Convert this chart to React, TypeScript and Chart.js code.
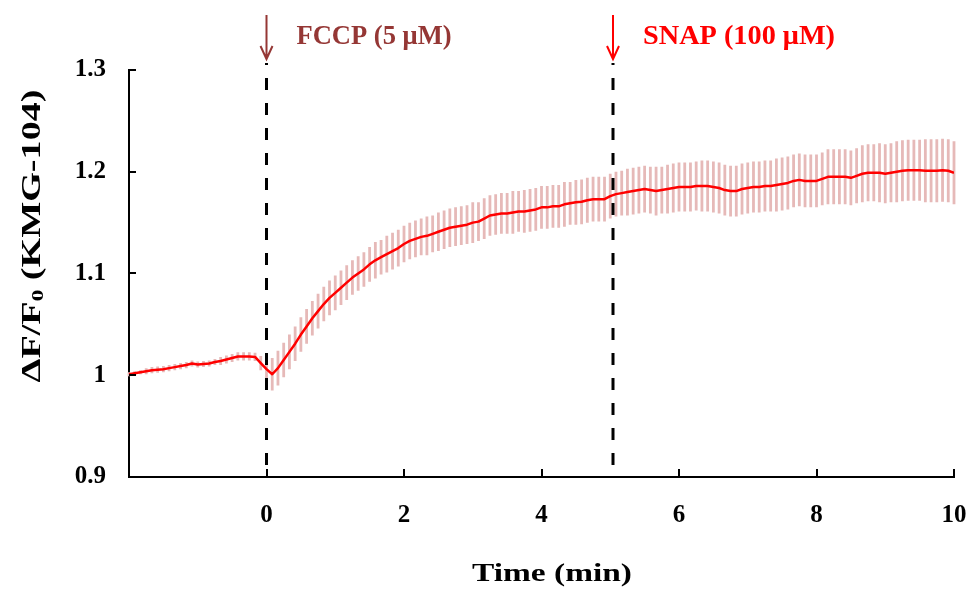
import React, { useEffect, useRef } from "react";
import { Chart, registerables } from "chart.js";

Chart.register(...registerables);

// ---- data ----
const T_START = -2; // minutes
const T_STEP = 1 / 12; // 5-second sampling
const X_MIN = -2;
const X_MAX = 10;
const X_TICKS = [0, 2, 4, 6, 8, 10];
const Y_MIN = 0.9;
const Y_MAX = 1.3;
const Y_STEP = 0.1;

const MEAN = [
  // -2 .. -0.083 min
  1.001, 1.002, 1.003, 1.004, 1.005, 1.0055, 1.006, 1.007, 1.008, 1.009, 1.01, 1.0115,
  1.0105, 1.011, 1.0115, 1.013, 1.014, 1.0155, 1.017, 1.0185, 1.0185, 1.0185, 1.018, 1.012,
  // 0 .. 0.917
  1.006, 1.001, 1.007, 1.015, 1.023, 1.031, 1.04, 1.048, 1.056, 1.063, 1.07, 1.076,
  // 1
  1.081, 1.086, 1.091, 1.096, 1.1, 1.104, 1.109, 1.113, 1.116, 1.119, 1.122, 1.125,
  // 2
  1.129, 1.132, 1.134, 1.136, 1.137, 1.139, 1.141, 1.143, 1.145, 1.146, 1.147, 1.148,
  // 3
  1.15, 1.151, 1.154, 1.157, 1.158, 1.159, 1.159, 1.16, 1.161, 1.161, 1.162, 1.163,
  // 4
  1.165, 1.165, 1.166, 1.166, 1.168, 1.169, 1.17, 1.1705, 1.172, 1.173, 1.173, 1.173,
  // 5
  1.176, 1.178, 1.179, 1.18, 1.181, 1.182, 1.183, 1.182, 1.181, 1.182, 1.183, 1.184,
  // 6
  1.185, 1.185, 1.185, 1.186, 1.186, 1.186, 1.185, 1.184, 1.182, 1.181, 1.181, 1.183,
  // 7
  1.184, 1.185, 1.185, 1.186, 1.186, 1.187, 1.188, 1.189, 1.191, 1.192, 1.191, 1.191,
  // 8
  1.191, 1.193, 1.195, 1.195, 1.195, 1.195, 1.194, 1.196, 1.198, 1.199, 1.199, 1.199,
  // 9
  1.198, 1.199, 1.2, 1.201, 1.2015, 1.2015, 1.2015, 1.201, 1.201, 1.201, 1.2015, 1.201,
  // 10
  1.199,
];

const SEM = [
  0.002, 0.002, 0.002, 0.003, 0.003, 0.003, 0.003, 0.003, 0.003, 0.003, 0.003, 0.003,
  0.003, 0.003, 0.003, 0.003, 0.004, 0.004, 0.004, 0.004, 0.004, 0.004, 0.004, 0.007,
  0.011, 0.016, 0.017, 0.017, 0.017, 0.017, 0.017, 0.017, 0.017, 0.017, 0.017, 0.017,
  0.017, 0.017, 0.017, 0.017, 0.017, 0.017, 0.017, 0.018, 0.017, 0.018, 0.018, 0.018,
  0.018, 0.018, 0.018, 0.018, 0.019, 0.018, 0.019, 0.019, 0.019, 0.019, 0.019, 0.019,
  0.02, 0.019, 0.02, 0.02, 0.02, 0.02, 0.02, 0.021, 0.02, 0.021, 0.021, 0.021,
  0.021, 0.021, 0.021, 0.021, 0.022, 0.021, 0.022, 0.022, 0.022, 0.022, 0.022, 0.022,
  0.022, 0.022, 0.022, 0.023, 0.023, 0.023, 0.023, 0.023, 0.024, 0.023, 0.024, 0.024,
  0.024, 0.024, 0.024, 0.024, 0.025, 0.025, 0.025, 0.025, 0.025, 0.025, 0.025, 0.025,
  0.025, 0.025, 0.025, 0.025, 0.025, 0.026, 0.026, 0.026, 0.026, 0.026, 0.026, 0.026,
  0.026, 0.026, 0.027, 0.027, 0.027, 0.027, 0.027, 0.027, 0.028, 0.028, 0.028, 0.029,
  0.029, 0.029, 0.03, 0.03, 0.03, 0.03, 0.03, 0.031, 0.031, 0.031, 0.031, 0.031,
  0.031,
];

const TIMES = MEAN.map((_, i) => T_START + i * T_STEP);

const ADD_TIMES = [0, 5.04];
const ADD_LABELS = ["FCCP (5 μM)", "SNAP (100 μM)"];
const ADD_COLORS = ["#953735", "#FF0000"];

const X_TITLE = "Time (min)";
const Y_TITLE_MAIN = "ΔF/F";
const Y_TITLE_SUB = "0";
const Y_TITLE_REST = " (KMG-104)";

// ---- styles ----
const SERIF = '"Liberation Serif", "Times New Roman", serif';
const LINE_COLOR = "#FF0000";
const ERR_COLOR = "#E6B9B8";

function drawStretched(
  ctx: CanvasRenderingContext2D,
  text: string,
  x: number,
  y: number,
  font: string,
  color: string,
  targetWidth: number,
  align: "left" | "center"
) {
  ctx.save();
  ctx.font = font;
  ctx.fillStyle = color;
  ctx.textBaseline = "alphabetic";
  ctx.textAlign = "left";
  const w = ctx.measureText(text).width;
  const sx = targetWidth / w;
  ctx.translate(align === "center" ? x - targetWidth / 2 : x, y);
  ctx.scale(sx, 1);
  ctx.fillText(text, 0, 0);
  ctx.restore();
}

const decorPlugin = {
  id: "decor",
  beforeDatasetsDraw(chart: any) {
    const { ctx } = chart;
    const xs = chart.scales.x;
    const ys = chart.scales.y;
    ctx.save();
    ctx.strokeStyle = ERR_COLOR;
    ctx.lineWidth = 2.8;
    ctx.lineCap = "butt";
    ctx.beginPath();
    for (let i = 0; i < MEAN.length; i++) {
      const px = xs.getPixelForValue(TIMES[i]);
      ctx.moveTo(px, ys.getPixelForValue(MEAN[i] + SEM[i]));
      ctx.lineTo(px, ys.getPixelForValue(MEAN[i] - SEM[i]));
    }
    ctx.stroke();
    ctx.restore();
  },
  afterDraw(chart: any) {
    const { ctx, chartArea } = chart;
    const xs = chart.scales.x;
    const ys = chart.scales.y;
    ctx.save();

    // inward tick marks
    ctx.strokeStyle = "#000";
    ctx.lineWidth = 2;
    ctx.beginPath();
    for (let v = Y_MIN; v <= Y_MAX + 1e-9; v += Y_STEP) {
      const py = Math.round(ys.getPixelForValue(v));
      ctx.moveTo(chartArea.left, py);
      ctx.lineTo(chartArea.left + 7, py);
    }
    for (const v of X_TICKS) {
      const px = Math.round(xs.getPixelForValue(v));
      ctx.moveTo(px, chartArea.bottom);
      ctx.lineTo(px, chartArea.bottom - 8);
    }
    ctx.stroke();

    // dashed addition lines
    ctx.lineWidth = 3;
    ctx.setLineDash([12, 13]);
    ctx.lineDashOffset = 10;
    for (const t of ADD_TIMES) {
      const px = xs.getPixelForValue(t);
      ctx.beginPath();
      ctx.moveTo(px, 63);
      ctx.lineTo(px, chartArea.bottom);
      ctx.stroke();
    }
    ctx.setLineDash([]);

    // arrows + labels
    const labelWidths = [155, 192];
    for (let i = 0; i < ADD_TIMES.length; i++) {
      const px = xs.getPixelForValue(ADD_TIMES[i]);
      ctx.strokeStyle = ADD_COLORS[i];
      ctx.lineWidth = 2;
      ctx.beginPath();
      ctx.moveTo(px, 15);
      ctx.lineTo(px, 59);
      ctx.moveTo(px - 6, 46);
      ctx.lineTo(px, 59);
      ctx.lineTo(px + 6, 46);
      ctx.stroke();
      drawStretched(ctx, ADD_LABELS[i], px + 30, 44, `bold 27px ${SERIF}`, ADD_COLORS[i], labelWidths[i], "left");
    }

    // x title
    drawStretched(ctx, X_TITLE, 552, 581, `bold 26px ${SERIF}`, "#000", 160, "center");

    // y title with subscript (rotated)
    ctx.save();
    ctx.translate(30, 236);
    ctx.rotate(-Math.PI / 2);
    ctx.fillStyle = "#000";
    ctx.textBaseline = "alphabetic";
    ctx.textAlign = "left";
    const mainFont = `bold 28px ${SERIF}`;
    const subFont = `bold 17px ${SERIF}`;
    ctx.font = mainFont;
    const w1 = ctx.measureText(Y_TITLE_MAIN).width;
    const w3 = ctx.measureText(Y_TITLE_REST).width;
    ctx.font = subFont;
    const w2 = ctx.measureText(Y_TITLE_SUB).width;
    const total = w1 + w2 + w3;
    const target = 293;
    ctx.scale(target / total, 1);
    const x0 = -total / 2;
    const base = 9.5;
    ctx.font = mainFont;
    ctx.fillText(Y_TITLE_MAIN, x0, base);
    ctx.font = subFont;
    ctx.fillText(Y_TITLE_SUB, x0 + w1, base + 3);
    ctx.font = mainFont;
    ctx.fillText(Y_TITLE_REST, x0 + w1 + w2, base);
    ctx.restore();

    ctx.restore();
  },
};

export default function App() {
  const canvasRef = useRef<HTMLCanvasElement | null>(null);

  useEffect(() => {
    document.body.style.margin = "0";
    const canvas = canvasRef.current;
    if (!canvas) return;
    const points = MEAN.map((v, i) => ({ x: TIMES[i], y: v }));
    const tickFont = { family: SERIF, size: 25, weight: "bold" as const };
    const chart = new Chart(canvas, {
      type: "line",
      data: {
        datasets: [
          {
            data: points,
            borderColor: LINE_COLOR,
            borderWidth: 2.5,
            pointRadius: 0,
            tension: 0,
            borderJoinStyle: "round",
            fill: false,
          },
        ],
      },
      options: {
        animation: false,
        responsive: false,
        devicePixelRatio: 1,
        layout: { padding: { top: 70, right: 15, left: 0, bottom: 0 } },
        plugins: { legend: { display: false }, tooltip: { enabled: false } },
        scales: {
          x: {
            type: "linear",
            min: X_MIN,
            max: X_MAX,
            afterBuildTicks: (scale: any) => {
              scale.ticks = X_TICKS.map((v) => ({ value: v }));
            },
            afterFit: (scale: any) => {
              scale.height = 122;
              scale.paddingLeft = 0;
              scale.paddingRight = 0;
            },
            ticks: {
              font: tickFont,
              color: "#000",
              padding: 24,
              maxRotation: 0,
              autoSkip: false,
              callback: (v: any) => String(v),
            },
            grid: { display: false, drawTicks: false },
            border: { display: true, color: "#000", width: 2 },
          },
          y: {
            type: "linear",
            min: Y_MIN,
            max: Y_MAX,
            afterFit: (scale: any) => {
              scale.width = 129;
              scale.paddingTop = 0;
              scale.paddingBottom = 0;
            },
            ticks: {
              stepSize: Y_STEP,
              font: tickFont,
              color: "#000",
              padding: 23,
              callback: (v: any) => String(Number(Number(v).toFixed(1))),
            },
            grid: { display: false, drawTicks: false },
            border: { display: true, color: "#000", width: 2 },
          },
        },
      },
      plugins: [decorPlugin],
    });
    return () => chart.destroy();
  }, []);

  return (
    <div style={{ position: "absolute", left: 0, top: 0, width: 969, height: 599 }}>
      <canvas ref={canvasRef} width={969} height={599} style={{ display: "block", width: 969, height: 599 }} />
    </div>
  );
}
